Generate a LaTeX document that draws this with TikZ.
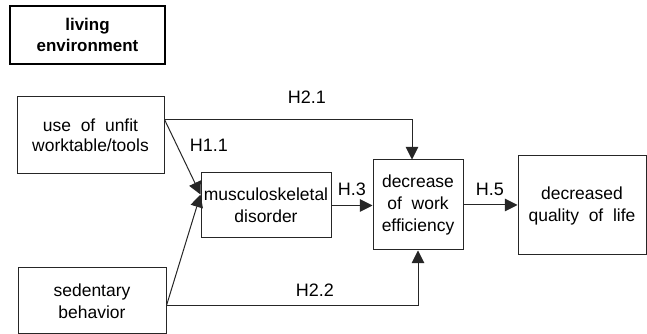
\documentclass[tikz,border=0pt]{standalone}
\usepackage{fontspec}
\setmainfont{Liberation Sans}
\usetikzlibrary{arrows.meta,calc}
\begin{document}
\begin{tikzpicture}[x=0.75pt,y=-0.75pt,
  box/.style={draw=black!85,line width=0.75pt,inner sep=0pt,align=center,
    font=\fontsize{13.1}{16.5}\selectfont},
  lbl/.style={inner sep=0pt,font=\fontsize{13.5}{15}\selectfont},
  arr/.style={draw=black!85,line width=0.75pt,-{Triangle[length=9.5pt,width=9.5pt]}},
  ln/.style={draw=black!85,line width=0.75pt}]
\useasboundingbox (0,0) rectangle (647,334);
\clip (0,0) rectangle (647,334);
\node[box,line width=1.6pt,draw=black,minimum width=116.25pt,minimum height=43.5pt,
  font=\fontsize{12.7}{15.5}\selectfont\bfseries] (liv) at (87.5,35) {living\\environment};
\node[box,minimum width=110.25pt,minimum height=57.75pt,
  font=\fontsize{13.1}{15}\selectfont] (use) at (90.5,135) {use\ \ of\ \ unfit\\worktable/tools};
\node[box,minimum width=97.5pt,minimum height=48.75pt] (musc) at (266,205.5) {musculoskeletal\\disorder};
\node[box,minimum width=111pt,minimum height=49.5pt] (sed) at (92,301) {sedentary\\behavior};
\node[box,minimum width=67.5pt,minimum height=67.5pt] (dec) at (418,205) {decrease\\of\ \ work\\efficiency};
\node[box,minimum width=96pt,minimum height=74.25pt] (qual) at (582,205.5) {decreased\\quality\ \ of\ \ life};
\coordinate (A) at ($(use.north east)+(0,23.5)$);
\coordinate (S) at ($(sed.north east)+(0,38)$);
\coordinate (M) at ($(musc.north west)+(0,22)$);
\draw[arr] (A) -| ([xshift=-4.5pt]dec.north);
\draw[arr] (A) -- (M);
\draw[arr] (S) -- (M);
\draw[arr] (S) -| (dec.south);
\draw[arr] (musc.east) -- (musc.east -| dec.west);
\draw[arr] (dec.east) -- (dec.east -| qual.west);
\node[lbl] (h21) at (307,97) {H2.1};
\node[lbl] (h11) at (209,145) {H1.1};
\node[lbl] (h3) at (352,189) {H.3};
\node[lbl] (h5) at (490,189) {H.5};
\node[lbl] (h22) at (315,290) {H2.2};
\end{tikzpicture}
\end{document}
